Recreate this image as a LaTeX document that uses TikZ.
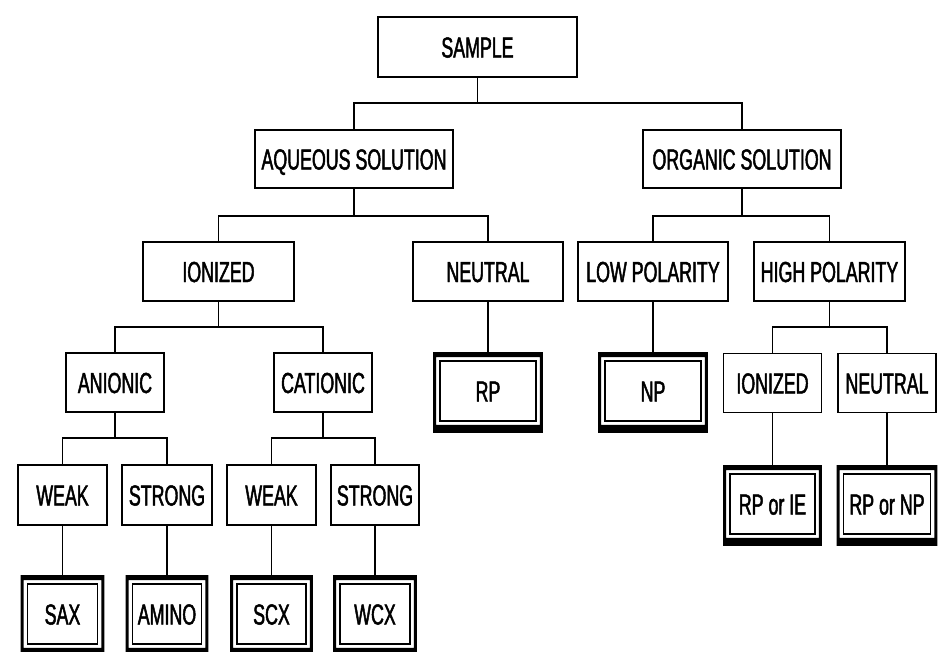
\documentclass[tikz,border=0pt]{standalone}
\usepackage{fontspec}
\setmainfont{Liberation Sans}[FakeStretch=0.614,FakeBold=1.6]
\newcommand\dframe[1]{\fill[black,even odd rule]
  ([shift={(-6pt,8pt)}]#1.north west) rectangle ([shift={(6pt,-11pt)}]#1.south east)
  ([shift={(-3pt,3pt)}]#1.north west) rectangle ([shift={(3pt,-3pt)}]#1.south east);}
\begin{document}
\begin{tikzpicture}[x=1pt,y=-1pt,
  lbl/.style={font=\fontsize{29}{30}\selectfont, text height=21pt, text depth=0pt},
  box/.style={lbl, draw, line width=1.9pt, rectangle, inner sep=0pt, minimum height=59pt},
  fbox/.style={lbl, draw, line width=1.6pt, rectangle, inner sep=0pt, minimum height=60pt},
  link/.style={line width=1.8pt}]
\useasboundingbox (0,0) rectangle (950,651);
\fill[white] (0,0) rectangle (950,651);
\clip (0,0) rectangle (950,651);
% bus levels
\coordinate (b1) at (0,103);
\coordinate (b2) at (0,216);
\coordinate (b3) at (0,327);
\coordinate (b4) at (0,438);
% plain boxes
\node[box, minimum width=199pt, minimum height=60pt] (sample) at (477.5,47) {SAMPLE};
\node[box, minimum width=198pt, minimum height=58pt] (aq) at (354,159) {AQUEOUS SOLUTION};
\node[box, minimum width=198pt, minimum height=58pt] (org) at (742,159) {ORGANIC SOLUTION};
\node[box, minimum width=151pt] (ion) at (218.5,271.5) {IONIZED};
\node[box, minimum width=150pt] (neu) at (488,271.5) {NEUTRAL};
\node[box, minimum width=150pt] (low) at (653,271.5) {LOW POLARITY};
\node[box, minimum width=151pt] (high) at (829.5,271.5) {HIGH POLARITY};
\node[box, minimum width=98pt] (an) at (115,382.5) {ANIONIC};
\node[box, minimum width=98pt] (cat) at (323,382.5) {CATIONIC};
\node[box, minimum width=98pt] (ion2) at (772.5,383) {IONIZED};
\node[box, minimum width=98pt] (neu2) at (887,383) {NEUTRAL};
\node[box, minimum width=89pt, minimum height=60pt] (wa) at (62.5,495) {WEAK};
\node[box, minimum width=90pt, minimum height=60pt] (sa) at (167,495) {STRONG};
\node[box, minimum width=89pt, minimum height=60pt] (wc) at (271.5,495) {WEAK};
\node[box, minimum width=88pt, minimum height=60pt] (sc) at (375,495) {STRONG};
% framed result boxes
\node[fbox, minimum width=96pt] (rp) at (488,391) {RP};
\node[fbox, minimum width=96pt] (np) at (653,391) {NP};
\node[fbox, minimum width=85pt] (rpie) at (772.5,504) {RP or IE};
\node[fbox, minimum width=87pt] (rpnp) at (887,504) {RP or NP};
\node[fbox, minimum width=70pt] (sax) at (62.5,614) {SAX};
\node[fbox, minimum width=69pt] (amino) at (167,614) {AMINO};
\node[fbox, minimum width=69pt] (scx) at (271.5,614) {SCX};
\node[fbox, minimum width=70pt] (wcx) at (375,614) {WCX};
\dframe{rp}\dframe{np}\dframe{rpie}\dframe{rpnp}
\dframe{sax}\dframe{amino}\dframe{scx}\dframe{wcx}
% connectors
\draw[link] (sample.south) -- (sample.south |- b1);
\draw[link] (aq.north) |- (org.north |- b1) -- (org.north);
\draw[link] (aq.south) -- (aq.south |- b2);
\draw[link] (ion.north) |- (neu.north |- b2) -- (neu.north);
\draw[link] (org.south) -- (org.south |- b2);
\draw[link] (low.north) |- (high.north |- b2) -- (high.north);
\draw[link] (ion.south) -- (ion.south |- b3);
\draw[link] (an.north) |- (cat.north |- b3) -- (cat.north);
\draw[link] (high.south) -- (high.south |- b3);
\draw[link] (ion2.north) |- (neu2.north |- b3) -- (neu2.north);
\draw[link] (an.south) -- (an.south |- b4);
\draw[link] (wa.north) |- (sa.north |- b4) -- (sa.north);
\draw[link] (cat.south) -- (cat.south |- b4);
\draw[link] (wc.north) |- (sc.north |- b4) -- (sc.north);
\draw[link] (neu.south) -- ([yshift=8pt]rp.north);
\draw[link] (low.south) -- ([yshift=8pt]np.north);
\draw[link] (ion2.south) -- ([yshift=8pt]rpie.north);
\draw[link] (neu2.south) -- ([yshift=8pt]rpnp.north);
\draw[link] (wa.south) -- ([yshift=8pt]sax.north);
\draw[link] (sa.south) -- ([yshift=8pt]amino.north);
\draw[link] (wc.south) -- ([yshift=8pt]scx.north);
\draw[link] (sc.south) -- ([yshift=8pt]wcx.north);
\end{tikzpicture}
\end{document}
